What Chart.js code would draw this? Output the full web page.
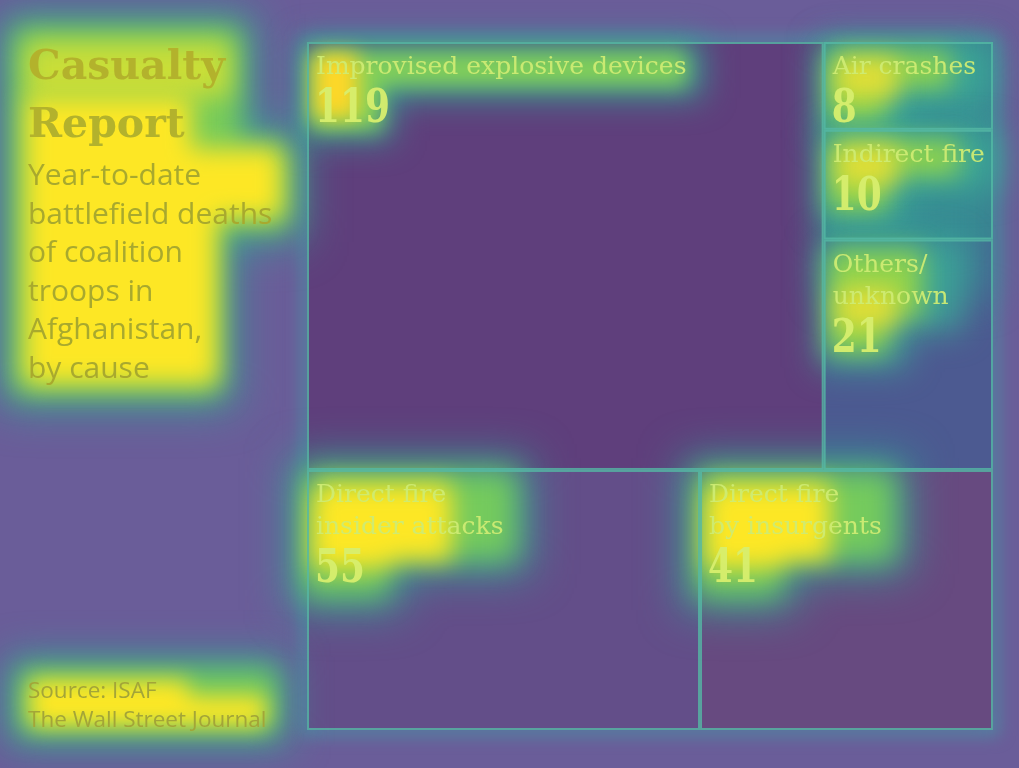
<!DOCTYPE html>
<html><head><meta charset="utf-8">
<script src="https://cdn.jsdelivr.net/npm/chart.js@4.4.1/dist/chart.umd.min.js"></script>
<style>
html,body{margin:0;padding:0;background:#6a5d99;}
#wrap{position:relative;width:1019px;height:768px;}
</style></head>
<body><div id="wrap"><canvas id="c" width="1019" height="768"></canvas></div>
<script>
const categories = ['Improvised explosive devices','Air crashes','Indirect fire','Others/\nunknown','Direct fire\ninsider attacks','Direct fire\nby insurgents'];
const values = [119, 8, 10, 21, 55, 41];
// structure: rows of columns of cell indices
const rows = [[[0],[1,2,3]], [[4],[5]]];
const titleLines = ['Casualty','Report'];
const subtitleLines = ['Year-to-date','battlefield deaths','of coalition','troops in','Afghanistan,','by cause'];
const sourceLines = ['Source: ISAF','The Wall Street Journal'];

const fills = ['#5f3f7c','#3f7f92','#3f7a90','#4c5a91','#634e89','#674a80'];

// slice-and-dice layout in value space (0..1 x 0..1)
function layout(){
  const total = values.reduce((a,b)=>a+b,0);
  const cells = [];
  let y0 = 0;
  rows.forEach(row=>{
    const rs = row.flat().reduce((a,i)=>a+values[i],0);
    const h = rs/total;
    let x0 = 0;
    row.forEach(col=>{
      const cs = col.reduce((a,i)=>a+values[i],0);
      const w = cs/rs;
      let yy = y0;
      col.forEach(i=>{
        const ch = h*values[i]/cs;
        cells[i] = {x0:x0, x1:x0+w, y0:yy, y1:yy+ch};
        yy += ch;
      });
      x0 += w;
    });
    y0 += h;
  });
  return cells;
}
const cellsV = layout();

function layer(ctx, boxes, expand, blur, color){
  ctx.save();
  ctx.filter = 'blur(' + blur + 'px)';
  ctx.fillStyle = color;
  ctx.beginPath();
  boxes.forEach(b=>ctx.rect(b[0]-expand, b[1]-expand, b[2]+2*expand, b[3]+2*expand));
  ctx.fill();
  ctx.restore();
}
function heat(ctx, boxes, yellowBoxes, s){
  s = s || 1;
  layer(ctx, boxes, 26*s, 22*s, 'rgba(50,165,150,0.85)');
  layer(ctx, boxes, 12*s, 14*s, 'rgba(120,205,90,0.95)');
  layer(ctx, yellowBoxes, 4*s, 12*s, 'rgba(253,231,37,1)');
}

const treemapPlugin = {
  id:'treemap',
  beforeDatasetsDraw(chart){
    const ctx = chart.ctx, xs = chart.scales.x, ys = chart.scales.y;
    ctx.save();
    ctx.fillStyle = '#6a5d99';
    ctx.fillRect(0,0,chart.width,chart.height);
    const rects = cellsV.map(c=>{
      const l = xs.getPixelForValue(c.x0), r = xs.getPixelForValue(c.x1);
      const t = ys.getPixelForValue(c.y0), b = ys.getPixelForValue(c.y1);
      return {l, r, t, b};
    });
    const a = chart.chartArea;
    // outer teal halo of treemap
    ctx.save();
    ctx.filter='blur(8px)';
    ctx.strokeStyle='rgba(70,150,165,0.7)';
    ctx.lineWidth=12;
    ctx.strokeRect(a.left, a.top, a.right-a.left, a.bottom-a.top);
    ctx.restore();
    rects.forEach((r,i)=>{
      ctx.fillStyle = fills[i];
      ctx.fillRect(r.l, r.t, r.r-r.l, r.b-r.t);
    });
    // right column extra teal
    ctx.save();
    ctx.filter='blur(18px)';
    ctx.fillStyle='rgba(50,150,150,0.6)';
    ctx.fillRect(rects[1].l, rects[1].t, rects[1].r-rects[1].l, rects[3].t - rects[1].t + 60);
    ctx.restore();

    // left panel heat
    const halo = [[22,36,210,110],[22,150,258,70],[22,215,190,170]];
    layer(ctx, halo, 22, 22, 'rgba(50,165,150,0.85)');
    layer(ctx, halo, 9, 14, 'rgba(125,208,85,0.95)');
    layer(ctx, [[28,44,200,50]], 2, 12, 'rgba(205,222,55,0.95)');
    layer(ctx, [[28,100,160,50],[28,152,250,62],[28,205,185,175]], 3, 12, 'rgba(253,231,37,1)');
    heat(ctx, [[30,680,235,42]], [[34,684,150,20],[34,700,228,22]], 0.9);

    // cell label heat
    const labelFont = '25px "DejaVu Serif"';
    ctx.font = labelFont;
    rects.forEach((r,i)=>{
      const lines = categories[i].split('\n');
      const lw = Math.max(...lines.map(s=>ctx.measureText(s).width));
      const x = r.l + 9, y = r.t + 14;
      const lh = lines.length*32;
      const numBox = [x, y+lh-8, 60, 44];
      if (i === 0) {
        layer(ctx, [[x, y, lw, 26], numBox], 16, 16, 'rgba(50,165,150,0.85)');
        layer(ctx, [[x, y+2, lw-6, 22], numBox], 6, 10, 'rgba(135,212,85,0.95)');
        layer(ctx, [[x, y, 40, 60]], 2, 10, 'rgba(253,215,40,1)');
      } else if (i >= 4) {
        heat(ctx, [[x, y, lw, lh], numBox], [[x+4, y+4, lw-60, lh+4],[x, y+20, 70, 60]], 1);
      } else {
        layer(ctx, [[x, y, lw, lh], numBox], 14, 16, 'rgba(60,170,150,0.85)');
        layer(ctx, [[x, y, lw-30, lh-4], [x, y+lh-8, 50, 40]], 4, 12, 'rgba(150,215,70,0.9)');
        layer(ctx, [[x+4, y+lh-30, 60, 40]], 0, 12, 'rgba(240,225,50,0.85)');
      }
    });
    // cell borders
    ctx.save();
    ctx.strokeStyle = 'rgba(85,185,165,0.8)';
    ctx.lineWidth = 2;
    rects.forEach(r=>{
      ctx.strokeRect(r.l+1, r.t+1, r.r-r.l-2, r.b-r.t-2);
    });
    ctx.restore();
    // cell texts
    ctx.textBaseline = 'alphabetic';
    rects.forEach((r,i)=>{
      const lines = categories[i].split('\n');
      ctx.fillStyle = 'rgba(205,235,115,0.95)';
      ctx.font = labelFont;
      let y = r.t + 32;
      lines.forEach(s=>{ ctx.fillText(s, r.l+9, y); y += 32; });
      y -= 32;
      ctx.save();
      ctx.translate(r.l+8, y+48);
      ctx.scale(0.78, 1);
      ctx.font = 'bold 46px "DejaVu Serif"';
      ctx.fillStyle = 'rgba(215,238,110,0.95)';
      ctx.fillText(String(values[i]), 0, 0);
      ctx.restore();
    });
    // left text
    ctx.fillStyle = '#b3b22c';
    ctx.font = 'bold 41px "DejaVu Serif"';
    ctx.fillText(titleLines[0], 28, 79);
    ctx.fillText(titleLines[1], 28, 137);
    ctx.fillStyle = '#a8a92e';
    ctx.font = '30px "Open Sans"';
    subtitleLines.forEach((s,k)=>ctx.fillText(s, 28, 185 + k*38.5));
    ctx.fillStyle = '#a3a538';
    ctx.font = '22.5px "Open Sans"';
    sourceLines.forEach((s,k)=>ctx.fillText(s, 28, 698 + k*29));
    ctx.restore();
  }
};

new Chart(document.getElementById('c'), {
  type:'scatter',
  data:{ datasets:[{ label:'Casualties', data: cellsV.map((c,i)=>({x:(c.x0+c.x1)/2, y:(c.y0+c.y1)/2, v:values[i]})), pointRadius:0 }] },
  options:{
    responsive:false, animation:false,
    layout:{ padding:{ left:307, top:42, right:26, bottom:38 } },
    plugins:{ legend:{display:false}, tooltip:{enabled:false} },
    scales:{
      x:{ type:'linear', min:0, max:1, display:false },
      y:{ type:'linear', min:0, max:1, reverse:true, display:false }
    }
  },
  plugins:[treemapPlugin]
});
</script></body></html>
